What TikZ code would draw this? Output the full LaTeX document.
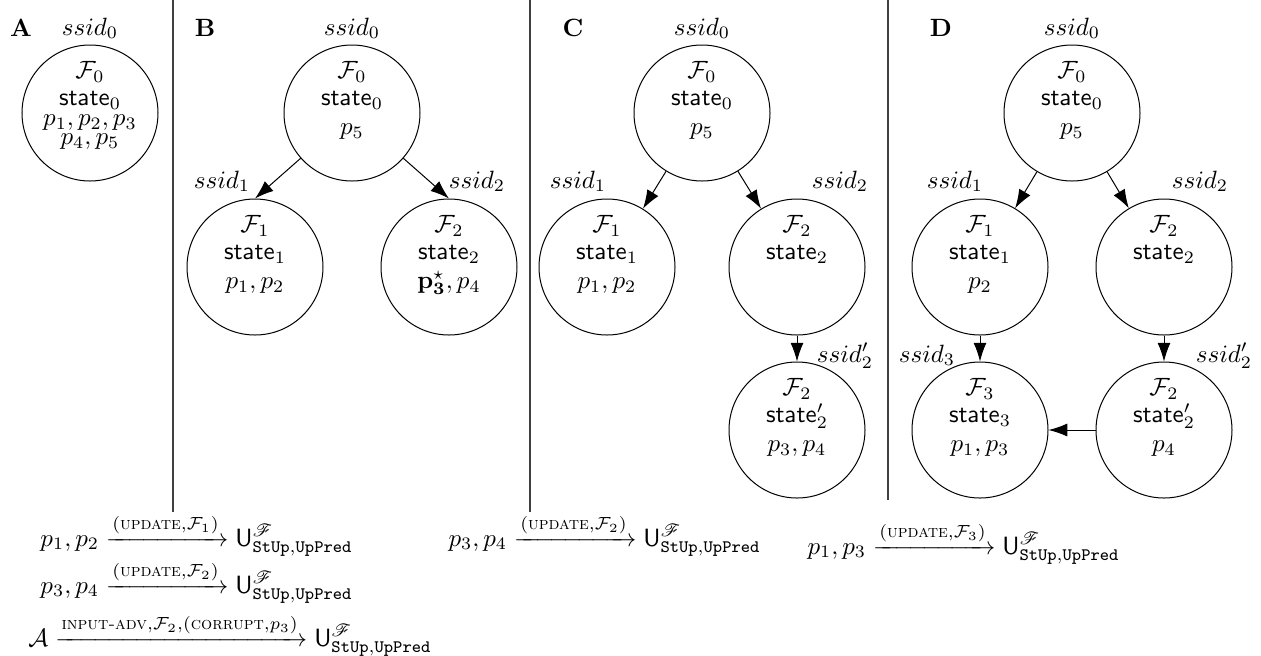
\documentclass[tikz,border=0pt]{standalone}
\usepackage{amsmath,amssymb}
\usepackage{mathrsfs}
\usetikzlibrary{arrows.meta,calc}
\newcommand{\Ufun}{\mathsf{U}^{\mathscr{F}}_{\mathtt{StUp},\mathtt{UpPred}}}
\newcommand{\upd}[1]{\xrightarrow{(\text{\textsc{update}},\mathcal{F}_{#1})}}
\begin{document}
\begin{tikzpicture}[x=0.4pt,y=-0.4pt,
  circ/.style={draw, circle, minimum size=54.4pt, inner sep=0pt},
  ctext/.style={align=center, inner sep=0pt, anchor=north},
  tag/.style={inner sep=0pt, anchor=base},
  panel/.style={inner sep=0pt, anchor=base, font=\bfseries},
  formula/.style={inner sep=0pt, anchor=base west},
  link/.style={-{Latex[length=7.5pt,width=5.2pt]}},
  divider/.style={draw=black!75, line width=0.5pt}]
\useasboundingbox (0,0) rectangle (1261,655);

% panel separators
\draw[divider] (173,0) -- (173,512);
\draw[divider] (530,0) -- (530,512);
\draw[divider] (888,0) -- (888,500);

% panel letters
\node[panel] (pa) at (21,36) {A};
\node[panel] (pb) at (205,36) {B};
\node[panel] (pc) at (573,36) {C};
\node[panel] (pd) at (941,36) {D};

% ---------------- A
\node[circ] (a0) at (90,113) {};
\node[ctext] (a0t) at ($(a0)+(0,-52)$) {$\mathcal{F}_0$\\[-1.2pt]$\mathsf{state}_0$\\[-4pt]$p_1,p_2,p_3$\\[-4.4pt]$p_4,p_5$};
\node[tag] (a0l) at (90,35) {$ssid_0$};

% ---------------- B
\node[circ] (b0) at (352,113) {};
\node[ctext] (b0t) at ($(b0)+(0,-52)$) {$\mathcal{F}_0$\\[-1.2pt]$\mathsf{state}_0$\\[-0.4pt]$p_5$};
\node[tag] (b0l) at (352,35) {$ssid_0$};

\node[circ] (b1) at (255,267) {};
\node[ctext] (b1t) at ($(b1)+(0,-52)$) {$\mathcal{F}_1$\\[-1.2pt]$\mathsf{state}_1$\\[-0.4pt]$p_1,p_2$};
\node[tag] (b1l) at (222,188) {$ssid_1$};

\node[circ] (b2) at (449,267) {};
\node[ctext] (b2t) at ($(b2)+(0,-52)$) {$\mathcal{F}_2$\\[-1.2pt]$\mathsf{state}_2$\\[-0.4pt]$\mathbf{p_3^\star},p_4$};
\node[tag] (b2l) at (477,188) {$ssid_2$};

\draw[link] (b0) -- (b1.north);
\draw[link] (b0) -- (b2.north);

% ---------------- C
\node[circ] (c0) at (702,113) {};
\node[ctext] (c0t) at ($(c0)+(0,-52)$) {$\mathcal{F}_0$\\[-1.2pt]$\mathsf{state}_0$\\[-0.4pt]$p_5$};
\node[tag] (c0l) at (702,35) {$ssid_0$};

\node[circ] (c1) at (607,267) {};
\node[ctext] (c1t) at ($(c1)+(0,-52)$) {$\mathcal{F}_1$\\[-1.2pt]$\mathsf{state}_1$\\[-0.4pt]$p_1,p_2$};
\node[tag] (c1l) at (578,188) {$ssid_1$};

\node[circ] (c2) at (797,267) {};
\node[ctext] (c2t) at ($(c2)+(0,-52)$) {$\mathcal{F}_2$\\[-1.2pt]$\mathsf{state}_2$};
\node[tag] (c2l) at (840,188) {$ssid_2$};

\node[circ] (c2p) at (797,430) {};
\node[ctext] (c2pt) at ($(c2p)+(0,-52)$) {$\mathcal{F}_2$\\[-1.2pt]$\mathsf{state}'_2$\\[-0.4pt]$p_3,p_4$};
\node[tag] (c2pl) at (845,362) {$ssid'_2$};

\draw[link] (c0) -- (c1);
\draw[link] (c0) -- (c2);
\draw[link] (c2) -- (c2p);

% ---------------- D
\node[circ] (d0) at (1072,113) {};
\node[ctext] (d0t) at ($(d0)+(0,-52)$) {$\mathcal{F}_0$\\[-1.2pt]$\mathsf{state}_0$\\[-0.4pt]$p_5$};
\node[tag] (d0l) at (1072,35) {$ssid_0$};

\node[circ] (d1) at (980,267) {};
\node[ctext] (d1t) at ($(d1)+(0,-52)$) {$\mathcal{F}_1$\\[-1.2pt]$\mathsf{state}_1$\\[-0.4pt]$p_2$};
\node[tag] (d1l) at (955,188) {$ssid_1$};

\node[circ] (d2) at (1164,267) {};
\node[ctext] (d2t) at ($(d2)+(0,-52)$) {$\mathcal{F}_2$\\[-1.2pt]$\mathsf{state}_2$};
\node[tag] (d2l) at (1200,188) {$ssid_2$};

\node[circ] (d3) at (980,430) {};
\node[ctext] (d3t) at ($(d3)+(0,-52)$) {$\mathcal{F}_3$\\[-1.2pt]$\mathsf{state}_3$\\[-0.4pt]$p_1,p_3$};
\node[tag] (d3l) at (927,362) {$ssid_3$};

\node[circ] (d2p) at (1164,430) {};
\node[ctext] (d2pt) at ($(d2p)+(0,-52)$) {$\mathcal{F}_2$\\[-1.2pt]$\mathsf{state}'_2$\\[-0.4pt]$p_4$};
\node[tag] (d2pl) at (1224,362) {$ssid'_2$};

\draw[link] (d0) -- (d1);
\draw[link] (d0) -- (d2);
\draw[link] (d1) -- (d3);
\draw[link] (d2) -- (d2p);
\draw[link] (d2p) -- (d3);

% ---------------- ideal-functionality calls
\node[formula] (f1) at (40,546) {$p_1,p_2 \upd{1} \Ufun$};
\node[formula] (f2) at (40,593) {$p_3,p_4 \upd{2} \Ufun$};
\node[formula] (f3) at (28,646) {$\mathcal{A} \xrightarrow{\text{\textsc{input-adv}},\mathcal{F}_2,(\text{\textsc{corrupt}},p_3)} \Ufun$};
\node[formula] (fc) at (448,546) {$p_3,p_4 \upd{2} \Ufun$};
\node[formula] (fd) at (807,554) {$p_1,p_3 \upd{3} \Ufun$};
\end{tikzpicture}
\end{document}
